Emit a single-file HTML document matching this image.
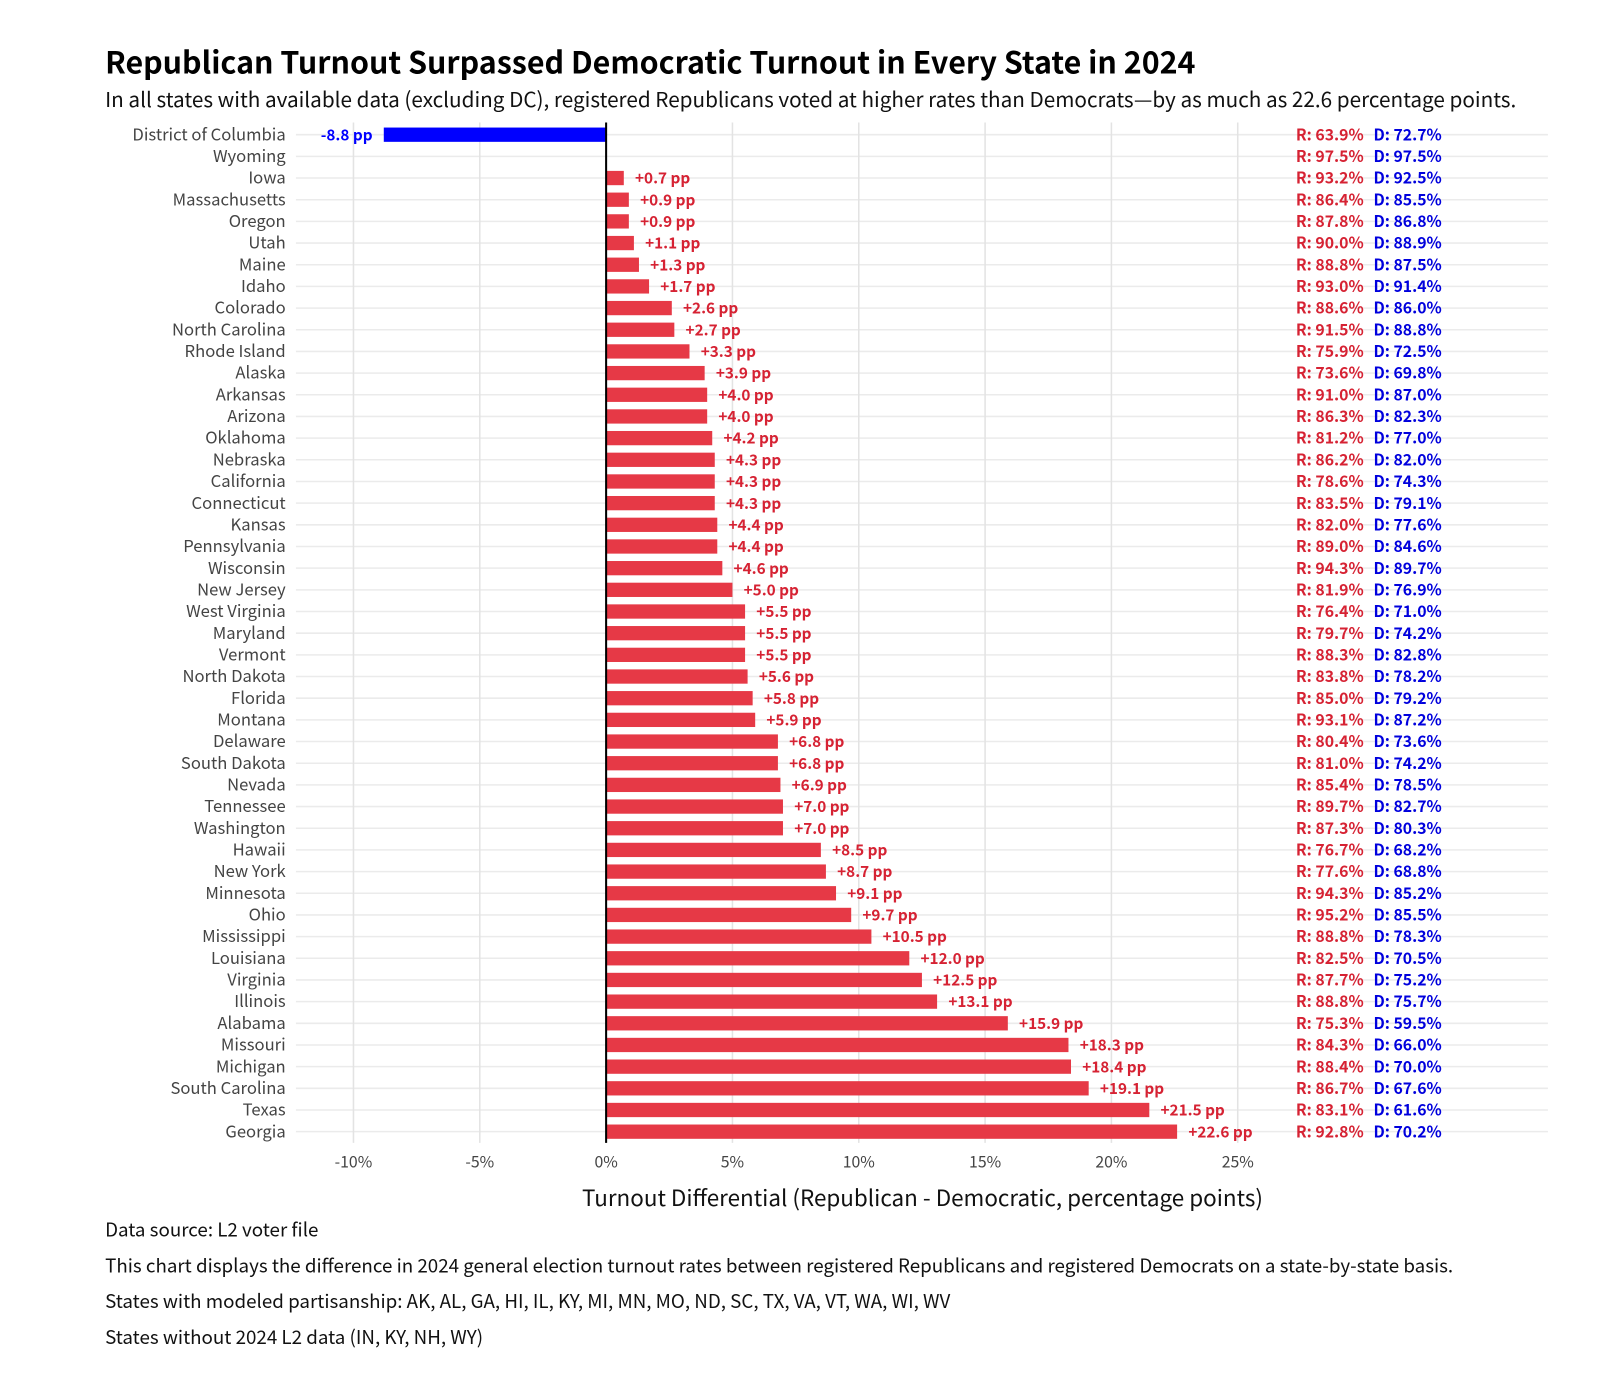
<!DOCTYPE html>
<html><head><meta charset="utf-8"><style>
body{margin:0;background:#fff;}
svg{display:block;font-family:"Noto Sans CJK JP","Liberation Sans",sans-serif;}
</style></head><body>
<svg id="chart" width="1600" height="1400" viewBox="0 0 1600 1400">
<g transform="scale(1.0204)">
<text x="103" y="72" font-size="29.8" font-weight="bold" fill="#000">Republican Turnout Surpassed Democratic Turnout in Every State in 2024</text>
<text x="103" y="105" font-size="20.3" fill="#111">In all states with available data (excluding DC), registered Republicans voted at higher rates than Democrats—by as much as 22.6 percentage points.</text>
<g id="grid"></g><g id="bars"></g>
<text x="904" y="1182" font-size="22" fill="#111" text-anchor="middle">Turnout Differential (Republican - Democratic, percentage points)</text>
<text x="103" y="1212" font-size="18.4" fill="#111">Data source: L2 voter file</text>
<text x="103" y="1247" font-size="18.4" fill="#111">This chart displays the difference in 2024 general election turnout rates between registered Republicans and registered Democrats on a state-by-state basis.</text>
<text x="103" y="1282" font-size="18.4" fill="#111">States with modeled partisanship: AK, AL, GA, HI, IL, KY, MI, MN, MO, ND, SC, TX, VA, VT, WA, WI, WV</text>
<text x="103" y="1317" font-size="18.4" fill="#111">States without 2024 L2 data (IN, KY, NH, WY)</text>
</g>
</svg>
<script>
const states=["District of Columbia","Wyoming","Iowa","Massachusetts","Oregon","Utah","Maine","Idaho","Colorado","North Carolina","Rhode Island","Alaska","Arkansas","Arizona","Oklahoma","Nebraska","California","Connecticut","Kansas","Pennsylvania","Wisconsin","New Jersey","West Virginia","Maryland","Vermont","North Dakota","Florida","Montana","Delaware","South Dakota","Nevada","Tennessee","Washington","Hawaii","New York","Minnesota","Ohio","Mississippi","Louisiana","Virginia","Illinois","Alabama","Missouri","Michigan","South Carolina","Texas","Georgia"];
const diffs=[-8.8,0,0.7,0.9,0.9,1.1,1.3,1.7,2.6,2.7,3.3,3.9,4.0,4.0,4.2,4.3,4.3,4.3,4.4,4.4,4.6,5.0,5.5,5.5,5.5,5.6,5.8,5.9,6.8,6.8,6.9,7.0,7.0,8.5,8.7,9.1,9.7,10.5,12.0,12.5,13.1,15.9,18.3,18.4,19.1,21.5,22.6];
const repTurnout=[63.9,97.5,93.2,86.4,87.8,90.0,88.8,93.0,88.6,91.5,75.9,73.6,91.0,86.3,81.2,86.2,78.6,83.5,82.0,89.0,94.3,81.9,76.4,79.7,88.3,83.8,85.0,93.1,80.4,81.0,85.4,89.7,87.3,76.7,77.6,94.3,95.2,88.8,82.5,87.7,88.8,75.3,84.3,88.4,86.7,83.1,92.8];
const demTurnout=[72.7,97.5,92.5,85.5,86.8,88.9,87.5,91.4,86.0,88.8,72.5,69.8,87.0,82.3,77.0,82.0,74.3,79.1,77.6,84.6,89.7,76.9,71.0,74.2,82.8,78.2,79.2,87.2,73.6,74.2,78.5,82.7,80.3,68.2,68.8,85.2,85.5,78.3,70.5,75.2,75.7,59.5,66.0,70.0,67.6,61.6,70.2];
const ticks=[-10,-5,0,5,10,15,20,25];
const NS="http://www.w3.org/2000/svg";
const x=v=>594+v*24.76;
const y=i=>132+i*21.24;
function mk(tag,attrs,parent,txt){const e=document.createElementNS(NS,tag);for(const k in attrs)e.setAttribute(k,attrs[k]);if(txt!==undefined)e.textContent=txt;parent.appendChild(e);return e;}
const grid=document.getElementById('grid'),bars=document.getElementById('bars');
states.forEach((s,i)=>{
 const l=mk('line',{x1:290,x2:1517,y1:y(i),y2:y(i),stroke:'#ebebeb','stroke-width':1.5},grid);
 
 
});
ticks.forEach(t=>{
 const l=mk('line',{x1:x(t),x2:x(t),y1:120,y2:1120,stroke:'#e3e3e3','stroke-width':1.5},grid);
 
 
 const tx=mk('text',{x:x(t),y:1144,'font-size':15.5,fill:'#444','text-anchor':'middle'},grid,t+'%');
 
 
});
states.forEach((s,i)=>{
 const d=diffs[i],yc=y(i);
 const lab=mk('text',{x:280,y:yc+5.5,'font-size':16.3,fill:'#444','text-anchor':'end'},bars,s);
 
 
 const col=d<0?'#0000ff':'#e63946';
 if(d!==0){
  const r=mk('rect',{x:Math.min(x(0),x(d)),y:yc-7,width:Math.abs(x(d)-x(0)),height:14,fill:col},bars);
  
  
  const vt=mk('text',{x:d<0?x(d)-11:x(d)+11,y:yc+5.5,'font-size':15,'font-weight':'bold',fill:d<0?'#0000ff':'#d62233','text-anchor':d<0?'end':'start'},bars,(d>0?'+':'')+d.toFixed(1)+' pp');
  
  
 }
 const rt=mk('text',{x:1270,y:yc+5.5,'font-size':15.5,'font-weight':'bold',fill:'#d62233'},bars,'R: '+repTurnout[i].toFixed(1)+'%');
 
 
 const dt=mk('text',{x:1346,y:yc+5.5,'font-size':15.5,'font-weight':'bold',fill:'#0000dd'},bars,'D: '+demTurnout[i].toFixed(1)+'%');
 
 
});
const z=mk('line',{x1:x(0),x2:x(0),y1:120,y2:1120,stroke:'#000','stroke-width':2},bars);


</script>
</body></html>
